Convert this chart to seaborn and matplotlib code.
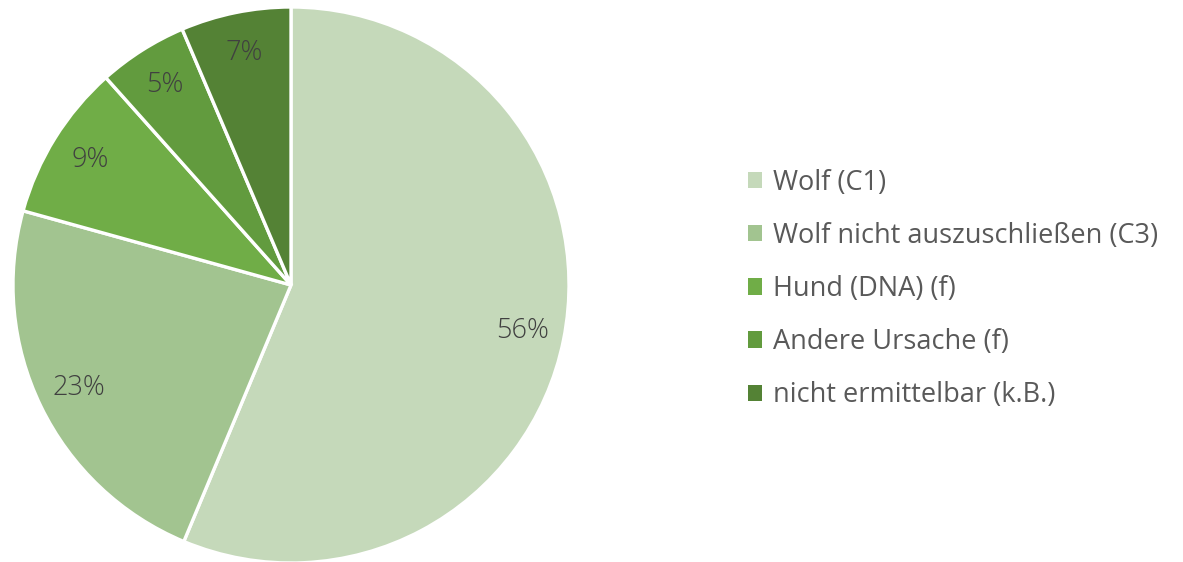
import matplotlib
matplotlib.use("Agg")
import matplotlib.pyplot as plt
import seaborn as sns
import numpy as np
from matplotlib.patches import Patch

categories = ["Wolf (C1)", "Wolf nicht auszuschließen (C3)", "Hund (DNA) (f)",
              "Andere Ursache (f)", "nicht ermittelbar (k.B.)"]
values = [56.3, 23.0, 9.1, 5.2, 6.4]
pct_labels = ["56%", "23%", "9%", "5%", "7%"]
colors = ["#C5D9BA", "#A2C490", "#70AD47", "#629B3E", "#548235"]

sns.set_theme(style="white")
plt.rcParams['font.family'] = ['Open Sans', 'DejaVu Sans']

W, H = 1183, 562
fig = plt.figure(figsize=(W / 100, H / 100), dpi=100)
cx, cy, r = 291, 285, 278
ax = fig.add_axes([(cx - r) / W, (H - cy - r) / H, 2 * r / W, 2 * r / H])

wedges, _ = ax.pie(values, colors=colors, startangle=90, counterclock=False,
                   radius=1, wedgeprops=dict(edgecolor="white", linewidth=2.4))
total = sum(values)
start = 90.0
for v, lab in zip(values, pct_labels):
    ang = start - v / total * 360 / 2
    start -= v / total * 360
    th = np.deg2rad(ang)
    ax.text(0.85 * np.cos(th), 0.85 * np.sin(th), lab, ha="center", va="center",
            fontsize=19.5, color="#404040", fontweight="light")
ax.set_xlim(-1, 1)
ax.set_ylim(-1, 1)
ax.set_aspect("equal")
ax.axis("off")

handles = [Patch(facecolor=c, edgecolor="none") for c in colors]
fig.legend(handles, categories, loc="center left", bbox_to_anchor=(734 / W, 1 - 289 / H),
           frameon=False, fontsize=19.5, labelcolor="#595959", handlelength=0.55,
           handleheight=0.55, handletextpad=0.4, labelspacing=0.93, borderpad=0)

fig.savefig("out.png", dpi=100)
